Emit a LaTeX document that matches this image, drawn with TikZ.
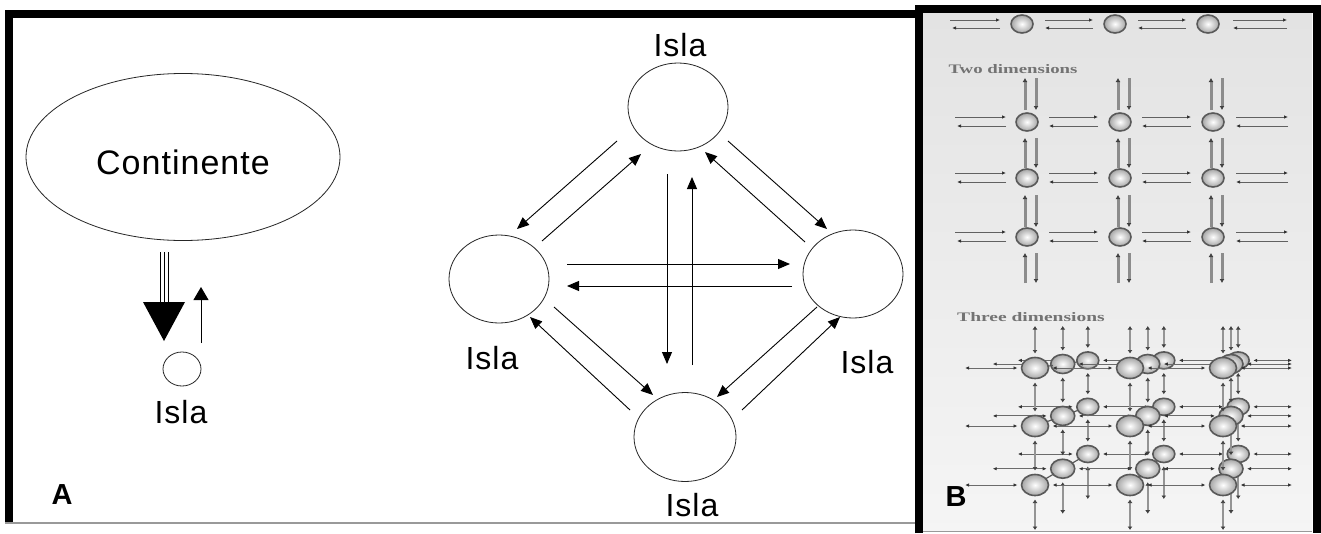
\documentclass[tikz,border=0pt]{standalone}
\usepackage{fontspec}
\setmainfont{Liberation Sans}
\newfontfamily\labelfont{Liberation Sans}[LetterSpace=3]
\newfontfamily\scanfont{Liberation Serif}
\usetikzlibrary{arrows.meta,shapes.geometric,calc}

\begin{document}
\begin{tikzpicture}[x=1pt,y=-1pt,
  isle/.style={draw=black!85, line width=0.8pt, ellipse, inner sep=0pt},
  islelabel/.style={font=\labelfont\fontsize{32}{35}\selectfont, inner sep=0pt},
  arr/.style={line width=0.9pt, -{Triangle[length=12pt,width=10pt]}},
  panellabel/.style={font=\bfseries\fontsize{29}{32}\selectfont, inner sep=0pt},
  frame/.style={line width=8pt, line join=miter},
  baseline/.style={draw=black!40, line width=1.2pt},
  atom/.style={ellipse, draw=black!65, line width=1.6pt, inner color=white, outer color=black!35, inner sep=0pt},
  harr/.style={draw=black!62, line width=1pt, -{Latex[length=4pt,width=3.5pt,color=black!80]}},
  varr/.style={draw=black!45, line width=3pt, -{Latex[length=4pt,width=5pt,color=black!75]}},
  v3/.style={draw=black!42, line width=2.4pt, {Latex[length=3.5pt,width=5pt,color=black!75]}-{Latex[length=3.5pt,width=5pt,color=black!75]}},
  h3/.style={draw=black!58, line width=0.9pt, {Latex[length=4pt,width=3.5pt,color=black!80]}-{Latex[length=4pt,width=3.5pt,color=black!80]}},
  dlink/.style={draw=black!65, line width=1.2pt, shorten >=10pt},
  scanlabel/.style={font=\scanfont\bfseries\fontsize{13}{15}\selectfont, text=black!55, inner sep=0pt}
]
\useasboundingbox (0,0) rectangle (1321,533);
\fill[white] (0,0) rectangle (1321,533);

% ---------- Panel A: continent and single island ----------
\node[isle, minimum width=314pt, minimum height=167pt] (cont) at (183,157) {};
\node[font=\labelfont\fontsize{34}{38}\selectfont, inner sep=0pt] (contlabel) at (183,162) {Continente};
\node[isle, minimum width=38pt, minimum height=34pt] (isl0) at (182,369) {};
\node[islelabel] (isl0label) at (181,412) {Isla};

% strong flow towards the island (triple shaft, big head)
\coordinate (bigS) at ($(cont)+(-19,95)$);
\coordinate (bigT) at ($(isl0)+(-18,-28)$);
\fill (bigT) -- ++(-21,-39) -- ++(42,0) -- cycle;
\foreach \dx in {-4,0,4}
  \draw[line width=0.9pt] ($(bigS)+(\dx,0)$) -- ($(bigT)+(\dx,-39)$);
% weak flow back to the continent
\draw[line width=0.9pt, -{Triangle[length=13pt,width=15pt]}] ($(isl0)+(19,-26)$) -- ($(cont)+(18,130)$);

% ---------- Panel A: network of four islands ----------
\node[isle, minimum width=100pt, minimum height=88pt] (itop) at (678,107) {};
\node[isle, minimum width=100pt, minimum height=88pt] (ileft) at (499,279) {};
\node[isle, minimum width=100pt, minimum height=88pt] (iright) at (853,274) {};
\node[isle, minimum width=102pt, minimum height=89pt] (ibot) at (685,437) {};
\node[islelabel] (itoplabel) at (680,45) {Isla};
\node[islelabel] (ileftlabel) at (492,358) {Isla};
\node[islelabel] (irightlabel) at (867,362) {Isla};
\node[islelabel] (ibotlabel) at (692,505) {Isla};

\draw[arr] ($(itop)+(-61,34)$) -- ($(ileft)+(18,-50)$);
\draw[arr] ($(ileft)+(43,-38)$) -- ($(itop)+(-37,47)$);
\draw[arr] ($(itop)+(50,34)$) -- ($(iright)+(-26,-45)$);
\draw[arr] ($(iright)+(-48,-32)$) -- ($(itop)+(27,45)$);
\draw[arr] ($(itop)+(-11,67)$) -- ($(ibot)+(-18,-73)$);
\draw[arr] ($(ibot)+(7,-72)$) -- ($(itop)+(14,70)$);
\draw[arr] ($(ileft)+(68,-15)$) -- ($(iright)+(-63,-10)$);
\draw[arr] ($(iright)+(-61,12)$) -- ($(ileft)+(68,7)$);
\draw[arr] ($(ileft)+(55,28)$) -- ($(ibot)+(-32,-42)$);
\draw[arr] ($(ibot)+(-55,-27)$) -- ($(ileft)+(31,38)$);
\draw[arr] ($(iright)+(-36,33)$) -- ($(ibot)+(32,-40)$);
\draw[arr] ($(ibot)+(57,-27)$) -- ($(iright)+(-13,43)$);

\node[panellabel] (labA) at (62,495) {A};

% ---------- Panel B: lattices in one, two and three dimensions ----------
\shade[top color=black!11, bottom color=black!4] (923,12) rectangle (1312,531);

% one dimension
\foreach \c/\x in {1/1022,2/1115,3/1208}
  \node[atom, minimum width=22pt, minimum height=18pt] (d\c) at (\x,24) {};
\draw[harr] ($(d1)+(-72,-4)$) -- ($(d1)+(-22,-4)$);
\draw[harr] ($(d1)+(-22,4)$) -- ($(d1)+(-70,4)$);
\foreach \c/\n in {1/2,2/3} {
  \draw[harr] ($(d\c)+(23,-4)$) -- ($(d\n)+(-22,-4)$);
  \draw[harr] ($(d\n)+(-22,4)$) -- ($(d\c)+(23,4)$);
}
\draw[harr] ($(d3)+(25,-4)$) -- ($(d3)+(79,-4)$);
\draw[harr] ($(d3)+(79,4)$) -- ($(d3)+(25,4)$);

% two dimensions
\node[scanlabel] (twod) at (1013,69) {\scalebox{1.45}[1]{Two dimensions}};
\foreach \r/\y in {1/122,2/178,3/237}
  \foreach \c/\x in {1/1027,2/1120,3/1213}
    \node[atom, minimum width=22pt, minimum height=18pt] (g\r\c) at (\x,\y) {};
\foreach \r in {1,2,3} {
  \draw[harr] ($(g\r1)+(-72,-5)$) -- ($(g\r1)+(-21,-5)$);
  \draw[harr] ($(g\r1)+(-21,4)$) -- ($(g\r1)+(-70,4)$);
  \foreach \c/\n in {1/2,2/3} {
    \draw[harr] ($(g\r\c)+(22,-5)$) -- ($(g\r\n)+(-22,-5)$);
    \draw[harr] ($(g\r\n)+(-22,4)$) -- ($(g\r\c)+(22,4)$);
  }
  \draw[harr] ($(g\r3)+(23,-5)$) -- ($(g\r3)+(75,-5)$);
  \draw[harr] ($(g\r3)+(75,4)$) -- ($(g\r3)+(23,4)$);
}
\foreach \c in {1,2,3} {
  \draw[varr] ($(g1\c)+(-2,-12)$) -- ($(g1\c)+(-2,-44)$);
  \draw[varr] ($(g1\c)+(9,-44)$) -- ($(g1\c)+(9,-12)$);
  \draw[varr] ($(g2\c)+(-2,-10)$) -- ($(g1\c)+(-2,16)$);
  \draw[varr] ($(g1\c)+(9,16)$) -- ($(g2\c)+(9,-10)$);
  \draw[varr] ($(g3\c)+(-2,-10)$) -- ($(g2\c)+(-2,17)$);
  \draw[varr] ($(g2\c)+(9,17)$) -- ($(g3\c)+(9,-10)$);
  \draw[varr] ($(g3\c)+(-2,46)$) -- ($(g3\c)+(-2,16)$);
  \draw[varr] ($(g3\c)+(9,16)$) -- ($(g3\c)+(9,46)$);
}

% three dimensions: three layers in perspective, drawn back to front
\node[scanlabel] (threed) at (1031,317) {\scalebox{1.5}[1]{Three dimensions}};
\coordinate (vp) at (1299,330);
\coordinate (vtop) at (1000,326);
\coordinate (hright) at (1292,0);
\foreach \L/\k in {2/0.2,1/0.105,0/0}
  \foreach \c/\fx in {1/1035,2/1130,3/1223}
    \foreach \r/\fy in {1/368,2/426,3/485} {
      \pgfmathsetmacro\px{\fx+\k*(1299-\fx)}
      \pgfmathsetmacro\py{\fy+\k*(330-\fy)}
      \coordinate (p\L\c\r) at (\px,\py);
    }
\foreach \L/\rx/\ry in {2/11/8.5,1/12/9.5,0/13.5/10.5} {
  \pgfmathtruncatemacro\Lb{\L+1}
  \ifnum\L<2
    \foreach \c in {1,2,3}
      \foreach \r in {1,2,3}
        \draw[dlink] (p\L\c\r) -- (p\Lb\c\r);
  \fi
  \foreach \c in {1,2,3} {
    \draw[v3] (p\L\c1 |- vtop) -- ($(p\L\c1)+(0,-\ry-4)$);
    \draw[v3] ($(p\L\c1)+(0,\ry+4)$) -- ($(p\L\c2)+(0,-\ry-4)$);
    \draw[v3] ($(p\L\c2)+(0,\ry+4)$) -- ($(p\L\c3)+(0,-\ry-4)$);
    \draw[v3] ($(p\L\c3)+(0,\ry+4)$) -- ($(p\L\c3)+(0,45)$);
  }
  \foreach \r in {1,2,3} {
    \draw[h3] ($(p\L1\r)+(-70,0)$) -- ($(p\L1\r)+(-\rx-4,0)$);
    \draw[h3] ($(p\L1\r)+(\rx+4,0)$) -- ($(p\L2\r)+(-\rx-4,0)$);
    \draw[h3] ($(p\L2\r)+(\rx+4,0)$) -- ($(p\L3\r)+(-\rx-4,0)$);
    \draw[h3] ($(p\L3\r)+(\rx+4,0)$) -- (p\L3\r -| hright);
  }
  \foreach \c in {1,2,3}
    \foreach \r in {1,2,3}
      \node[atom, minimum width=2*\rx, minimum height=2*\ry] (b\L\c\r) at (p\L\c\r) {};
}

\node[panellabel] (labB) at (956,497) {B};

% ---------- frames ----------
\draw[frame] (9,522) -- (9,14) -- (915,14);
\draw[baseline] (5,523) -- (915,523);
\draw[frame] (919,533) -- (919,8.5) -- (1316.5,8.5) -- (1316.5,533);
\draw[baseline] (923,531.5) -- (1312,531.5);
\end{tikzpicture}
\end{document}
